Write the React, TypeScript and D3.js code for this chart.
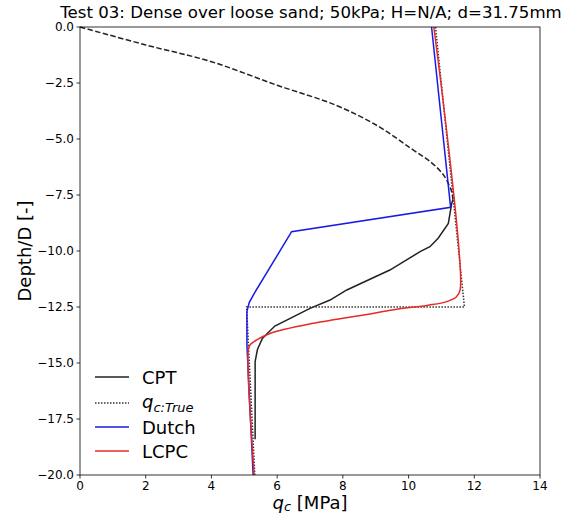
import React from "react";
import * as d3 from "d3";

const title = "Test 03: Dense over loose sand; 50kPa; H=N/A; d=31.75mm";
const xTicks = [0, 2, 4, 6, 8, 10, 12, 14];
const yTicks = [0, -2.5, -5, -7.5, -10, -12.5, -15, -17.5, -20];

// CPT upper part (dashed)
const cptDashQ = [0, 2, 4, 6, 7.8, 9.1, 10.05, 10.65, 11.06, 11.3, 11.35];
const cptDashD = [0, -0.8, -1.55, -2.6, -3.5, -4.45, -5.4, -6.0, -6.6, -7.3, -7.7];
// CPT solid
const cptQ = [11.35, 11.31, 11.21, 10.9, 10.65, 10.35, 9.43, 8.12, 7.61, 7.0, 5.93, 5.55, 5.4, 5.33, 5.33];
const cptD = [-7.7, -7.9, -8.77, -9.43, -9.81, -10.03, -10.85, -11.74, -12.19, -12.56, -13.35, -13.9, -14.4, -14.94, -18.4];
// q_c true
const trueQ = [10.82, 11.7, 11.7, 5.07, 5.32];
const trueD = [0, -12.5, -12.5, -12.5, -20];
// Dutch
const dutchQ = [10.7, 11.28, 6.44, 5.3, 5.15, 5.08, 5.08, 5.27];
const dutchD = [0, -8.05, -9.14, -11.9, -12.3, -12.7, -14.2, -20];
// LCPC
const lcpcQ = [10.77, 11.57, 11.46, 11.16, 10.6, 9.64, 8.83, 7.1, 5.78, 5.38, 5.17, 5.12, 5.3];
const lcpcD = [0, -11.74, -12.04, -12.26, -12.42, -12.6, -12.81, -13.23, -13.68, -13.97, -14.2, -14.42, -20];

const legendLabels = ["CPT", "q_c:True", "Dutch", "LCPC"];

const W = 566, H = 515;
const m = { left: 80, right: 540, top: 27, bottom: 475 };

export default function App() {
  const x = d3.scaleLinear().domain([0, 14]).range([m.left, m.right]);
  const y = d3.scaleLinear().domain([0, -20]).range([m.top, m.bottom]);
  const line = (qs: number[], ds: number[], smooth = false) =>
    d3
      .line<number>()
      .x((_, i) => x(qs[i]))
      .y((_, i) => y(ds[i]))
      .curve(smooth ? d3.curveCatmullRom.alpha(0.5) : d3.curveLinear)(qs) || "";
  const fmtY = (v: number) => (v < 0 ? "\u2212" + Math.abs(v).toFixed(1) : v.toFixed(1));
  const font = "DejaVu Sans, sans-serif";

  const series = [
    { q: cptQ, d: cptD, stroke: "#222", dash: undefined as string | undefined, w: 1.5, smooth: false },
    { q: trueQ, d: trueD, stroke: "#333", dash: "1.5,1.5", w: 1.5, smooth: false },
    { q: dutchQ, d: dutchD, stroke: "#1a1ae6", dash: undefined, w: 1.5, smooth: false },
    { q: lcpcQ, d: lcpcD, stroke: "#e62a2a", dash: undefined, w: 1.5, smooth: true },
  ];
  const legendY = [377, 403, 427, 451];

  return (
    <svg width={W} height={H} style={{ position: "absolute", left: 0, top: 0 }} fontFamily={font}>
      <rect x={0} y={0} width={W} height={H} fill="#fff" />
      <text x={311} y={18} textAnchor="middle" fontSize={16.6} fill="#000">{title}</text>
      <g>
        <path d={line(cptDashQ, cptDashD, true)} fill="none" stroke="#222" strokeWidth={1.5} strokeDasharray="5.5,2.4" />
        {series.map((s, i) => (
          <path key={i} d={line(s.q, s.d, s.smooth)} fill="none" stroke={s.stroke} strokeWidth={s.w} strokeDasharray={s.dash} />
        ))}
      </g>
      <rect x={m.left} y={m.top} width={m.right - m.left} height={m.bottom - m.top} fill="none" stroke="#000" strokeWidth={0.8} />
      {xTicks.map((t) => (
        <g key={"x" + t}>
          <line x1={x(t)} x2={x(t)} y1={m.bottom} y2={m.bottom + 3.5} stroke="#000" strokeWidth={0.8} />
          <text x={x(t)} y={m.bottom + 15} textAnchor="middle" fontSize={12} fill="#000">{t}</text>
        </g>
      ))}
      {yTicks.map((t) => (
        <g key={"y" + t}>
          <line x1={m.left - 3.5} x2={m.left} y1={y(t)} y2={y(t)} stroke="#000" strokeWidth={0.8} />
          <text x={m.left - 6} y={y(t) + 4.3} textAnchor="end" fontSize={12} fill="#000">{fmtY(t)}</text>
        </g>
      ))}
      <text transform={`translate(31,${(m.top + m.bottom) / 2}) rotate(-90)`} textAnchor="middle" fontSize={18} fill="#000">Depth/D [-]</text>
      <text x={(m.left + m.right) / 2} y={509} textAnchor="middle" fontSize={18} fill="#000">
        <tspan fontStyle="italic">q</tspan>
        <tspan fontStyle="italic" fontSize={13} dy={2}>c</tspan>
        <tspan dy={-2}> [MPa]</tspan>
      </text>
      {series.map((s, i) => (
        <g key={"lg" + i}>
          <line x1={95} x2={129} y1={legendY[i]} y2={legendY[i]} stroke={s.stroke} strokeWidth={s.w} strokeDasharray={s.dash} />
          {i === 1 ? (
            <text x={142} y={legendY[i] + 5} fontSize={18} fill="#000">
              <tspan fontStyle="italic">q</tspan>
              <tspan fontStyle="italic" fontSize={13} dy={4}>c:True</tspan>
            </text>
          ) : (
            <text x={142} y={legendY[i] + 6.5} fontSize={18} fill="#000">{legendLabels[i]}</text>
          )}
        </g>
      ))}
    </svg>
  );
}
